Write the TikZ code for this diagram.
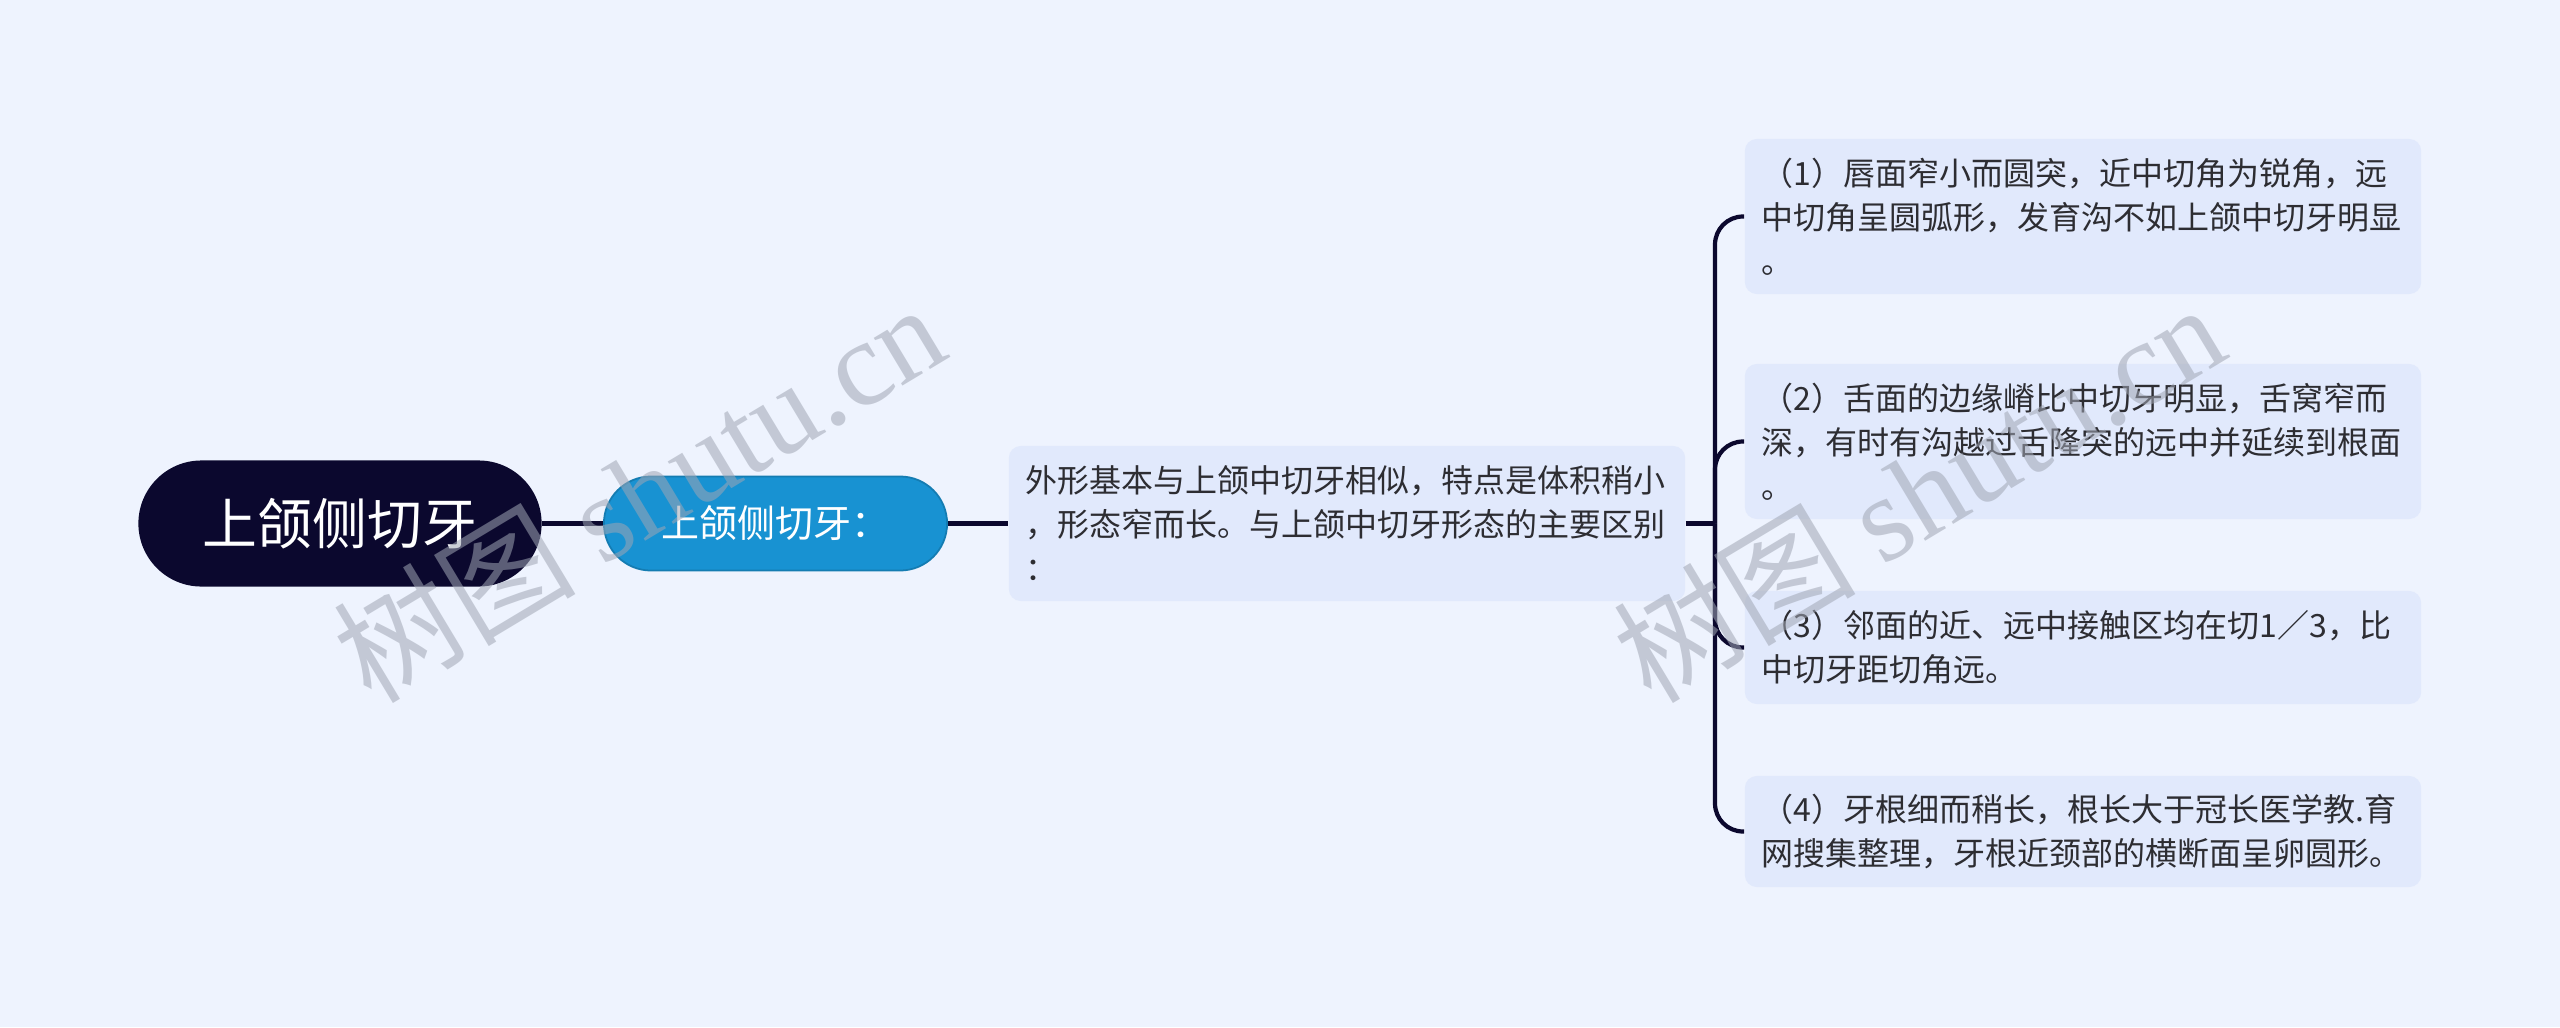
\documentclass[tikz,border=0pt]{standalone}
\usepackage{fontspec}
\setmainfont{Noto Sans CJK SC}
\newfontfamily\wmlatin{Liberation Serif}
\usetikzlibrary{positioning}
\definecolor{PageBg}{RGB}{238,243,254}
\definecolor{RootNavy}{RGB}{11,8,46}
\definecolor{TopicBlue}{RGB}{24,146,210}
\definecolor{LeafFill}{RGB}{225,233,252}
\definecolor{LeafText}{RGB}{45,45,50}
\definecolor{MarkGray}{RGB}{160,166,180}
\tikzset{
  root/.style={fill=RootNavy,text=white,rounded corners=0.63cm,minimum width=4.03cm,
    minimum height=1.26cm,font=\fontsize{15.6pt}{18pt}\selectfont},
  topic/.style={draw=TopicBlue!85!black,line width=0.5pt,fill=TopicBlue,text=white,
    rounded corners=0.47cm,minimum width=3.43cm,minimum height=0.94cm,
    font=\fontsize{10.8pt}{13pt}\selectfont},
  leaf/.style={fill=LeafFill,text=LeafText,rounded corners=0.12cm,text width=6.42cm,
    inner xsep=0.17cm,align=left,font=\fontsize{9.1pt}{12.5pt}\selectfont},
  link/.style={RootNavy,line width=1.2pt},
  watermark/.style={MarkGray,opacity=0.55,rotate=31,anchor=base,
    font=\fontsize{34.5pt}{38pt}\selectfont}
}

\begin{document}
\begin{tikzpicture}[x=0.01cm,y=-0.01cm]
  \useasboundingbox (0,0) rectangle (2560,1027);
  \fill[PageBg] (0,0) rectangle (2560,1027);

  \node[root] (tooth) at (340,523.5) {上颌侧切牙};
  \node[topic] (title) at (775.5,523.5) {上颌侧切牙：};
  \node[leaf,minimum height=1.55cm] (summary) at (1347,523.5)
    {外形基本与上颌中切牙相似，特点是体积稍小\\，形态窄而长。与上颌中切牙形态的主要区别\\：};

  \node[leaf,minimum height=1.55cm] (point1) at (2083,216.5)
    {（1）唇面窄小而圆突，近中切角为锐角，远\\中切角呈圆弧形，发育沟不如上颌中切牙明显\\。};
  \node[leaf,minimum height=1.55cm] (point2) at (2083,441.5)
    {（2）舌面的边缘嵴比中切牙明显，舌窝窄而\\深，有时有沟越过舌隆突的远中并延续到根面\\。};
  \node[leaf,minimum height=1.13cm] (point3) at (2083,647.5)
    {（3）邻面的近、远中接触区均在切1／3，比\\中切牙距切角远。};
  \node[leaf,minimum height=1.11cm] (point4) at (2083,831.5)
    {（4）牙根细而稍长，根长大于冠长医学教.育\\网搜集整理，牙根近颈部的横断面呈卵圆形。};

  \coordinate (spine) at (1715,523.5);

  \draw[link] (tooth) -- (title);
  \draw[link] (title) -- (summary);
  \draw[link] (summary) -- (spine);
  \foreach \p in {point1,point2,point3,point4}
    \draw[link,rounded corners=0.28cm] (spine) |- (\p.west);

  % site watermark
  \node[watermark] (mark1) at (662,531) {树图 {\wmlatin shutu.cn}};
  \node[watermark] (mark2) at (1942,531) {树图 {\wmlatin shutu.cn}};
\end{tikzpicture}
\end{document}
